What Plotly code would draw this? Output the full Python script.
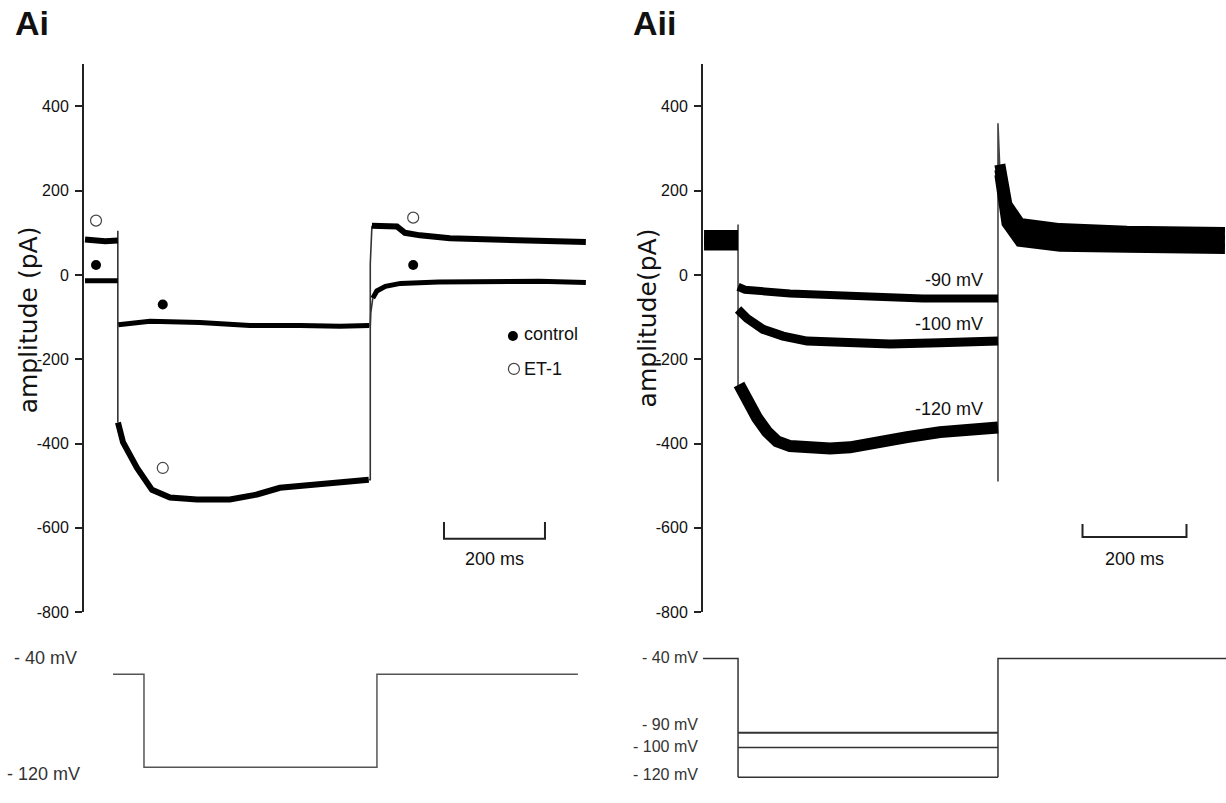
import plotly.graph_objects as go

W, H = 1226, 803

# ---------------- Ai : current traces (time ms, current pA) ----------------
ai_et1_pre_t = [0, 20, 40, 65]
ai_et1_pre_i = [84, 82, 80, 82]
ai_et1_step_t = [65.3, 75.2, 103, 132.7, 168.3, 221.8, 287, 340.6, 386, 451.5, 518.8, 562]
ai_et1_step_i = [-350, -397, -458, -510, -528, -533, -533, -521, -505, -498, -490, -486]
ai_et1_post_t = [568.3, 617.8, 633.7, 663.4, 722.8, 821.8, 920.8, 992]
ai_et1_post_i = [117, 115, 100, 94, 87, 83, 82, 78]

ai_ctl_pre_t = [0, 30, 65]
ai_ctl_pre_i = [-14, -13, -14]
ai_ctl_step_t = [66, 128.7, 227.7, 326.7, 425.7, 505, 563]
ai_ctl_step_i = [-118, -110, -113, -120, -120, -122, -120]
ai_ctl_post_t = [570, 578, 595, 625, 700, 800, 900, 992]
ai_ctl_post_i = [-55, -38, -27, -20, -17, -15, -15, -18]

# thin step transitions
ai_et1_on_t = [65, 65]
ai_et1_on_i = [105, -350]
ai_et1_off_t = [562, 565, 565, 566.5, 568.3]
ai_et1_off_i = [-486, -486, 26, 100, 117]
ai_ctl_off_t = [563, 565, 566, 570]
ai_ctl_off_i = [-120, -120, -90, -55]

# symbols on traces
ai_ctl_mark_t = [21.8, 154, 650]
ai_ctl_mark_i = [23.5, -70, 23.5]
ai_et1_mark_t = [21.8, 154, 650]
ai_et1_mark_i = [129, -458, 136]

# legend position (data coords)
ai_leg_t = [847.5, 849.5]
ai_leg_i = [-145, -223]

# voltage protocol Ai
ai_v_t = [55.4, 116.8, 116.8, 578.2, 578.2, 976.2]
ai_v_mv = [-40, -40, -120, -120, -40, -40]

# ---------------- Aii : current traces ----------------
aii_pre_t = [0, 65.4]
aii_pre_a = [95, 95]
aii_pre_b = [82, 82]
aii_pre_c = [70, 70]

aii_90_t = [65.4, 78.8, 165.4, 294, 421, 565.4]
aii_90_i = [-28, -35, -44, -51, -56, -56]
aii_100_t = [65.4, 82.7, 113.5, 151.9, 198, 294, 357.7, 453.8, 565.4]
aii_100_i = [-82, -103, -129, -145, -157, -164, -164, -161, -157]
aii_120_t = [67.3, 75, 88.5, 101.9, 121.2, 140.4, 165.4, 198, 242.3, 280.8, 325, 390.4, 453.8, 517.3, 565.4]
aii_120_i = [-260, -278, -316, -339, -372, -395, -406, -409, -412, -409, -397, -385, -373, -366, -362]

aii_tail_t = [569, 573, 582.7, 607.7, 646, 684.6, 813.5, 940.4, 1002]
aii_tail_a = [262, 230, 167, 122, 115, 110, 104, 101, 101]
aii_tail_b = [250, 211, 145, 101, 94, 89, 85, 82, 82]
aii_tail_c = [238, 192, 123, 80, 73, 68, 66, 63, 63]

aii_on_t = [65.4, 65.4]
aii_on_i = [120, -280]
aii_off_t = [565.4, 565.4, 567.3, 569]
aii_off_i = [-490, 360, 300, 250]

# voltage protocol Aii
aii_hold_t = [-2, 65.4, 65.4]
aii_hold_mv = [-40, -40, -120]
aii_ret_t = [565.4, 565.4, 1004]
aii_ret_mv = [-120, -40, -40]
aii_steps_mv = [-90, -100, -120]
aii_step_t = [65.4, 565.4]

# scale bars (ms, pA)
ai_bar_t = [711, 711, 911, 911]
ai_bar_i = [-586, -626, -626, -586]
aii_bar_t = [728, 728, 928, 928]
aii_bar_i = [-591, -622, -622, -591]

yticks = [400, 200, 0, -200, -400, -600, -800]

ARIAL = "Liberation Sans, Arial, sans-serif"

fig = go.Figure()


def line(x, y, xa, ya, width, color="black"):
    fig.add_trace(go.Scatter(x=x, y=y, xaxis=xa, yaxis=ya, mode="lines",
                             line=dict(color=color, width=width),
                             hoverinfo="skip", showlegend=False))


# Ai traces
line(ai_et1_on_t, ai_et1_on_i, "x", "y", 1.6, "#333")
line(ai_et1_off_t, ai_et1_off_i, "x", "y", 1.6, "#333")
line(ai_ctl_off_t, ai_ctl_off_i, "x", "y", 1.6, "#333")
line(ai_et1_pre_t, ai_et1_pre_i, "x", "y", 6)
line(ai_et1_step_t, ai_et1_step_i, "x", "y", 6)
line(ai_et1_post_t, ai_et1_post_i, "x", "y", 6)
line(ai_ctl_pre_t, ai_ctl_pre_i, "x", "y", 5)
line(ai_ctl_step_t, ai_ctl_step_i, "x", "y", 5)
line(ai_ctl_post_t, ai_ctl_post_i, "x", "y", 5)
line(ai_bar_t, ai_bar_i, "x", "y", 2, "#222")

fig.add_trace(go.Scatter(x=ai_ctl_mark_t + [ai_leg_t[0]], y=ai_ctl_mark_i + [ai_leg_i[0]],
                         xaxis="x", yaxis="y", mode="markers",
                         marker=dict(symbol="circle", size=10, color="black"),
                         hoverinfo="skip", showlegend=False))
fig.add_trace(go.Scatter(x=ai_et1_mark_t + [ai_leg_t[1]], y=ai_et1_mark_i + [ai_leg_i[1]],
                         xaxis="x", yaxis="y", mode="markers",
                         marker=dict(symbol="circle-open", size=11, color="#444", line=dict(width=1.2)),
                         hoverinfo="skip", showlegend=False))

# Ai voltage
line(ai_v_t, ai_v_mv, "x2", "y2", 1.5, "#555")

# Aii traces
line(aii_on_t, aii_on_i, "x3", "y3", 1.6, "#444")
line(aii_off_t, aii_off_i, "x3", "y3", 1.6, "#444")
for pre in (aii_pre_a, aii_pre_b, aii_pre_c):
    line(aii_pre_t, pre, "x3", "y3", 10)
line(aii_90_t, aii_90_i, "x3", "y3", 8)
line(aii_100_t, aii_100_i, "x3", "y3", 9)
line(aii_120_t, aii_120_i, "x3", "y3", 12)
for tail in (aii_tail_a, aii_tail_b, aii_tail_c):
    line(aii_tail_t, tail, "x3", "y3", 11)
line(aii_bar_t, aii_bar_i, "x3", "y3", 2, "#222")

# Aii voltage
line(aii_hold_t, aii_hold_mv, "x4", "y4", 1.5, "#333")
line(aii_ret_t, aii_ret_mv, "x4", "y4", 1.5, "#333")
for mv, w in zip(aii_steps_mv, [2, 1.4, 1.4]):
    line(aii_step_t, [mv, mv], "x4", "y4", w, "#333")


def px_x(p):
    return p / W


def px_y(p):
    return 1 - p / H


yax = dict(range=[-800, 500], tickvals=yticks, ticktext=[str(v) for v in yticks],
           showline=True, linecolor="#222", linewidth=2, ticks="outside",
           ticklen=7, tickwidth=2, tickcolor="#222", showgrid=False, zeroline=False,
           tickfont=dict(family=ARIAL, size=16, color="#111"), ticklabelstandoff=3,
           domain=[px_y(619), px_y(65)])

fig.update_layout(
    width=W, height=H, margin=dict(l=0, r=0, t=0, b=0),
    paper_bgcolor="white", plot_bgcolor="white", showlegend=False,
    xaxis=dict(domain=[px_x(84), px_x(600)], range=[-2, 1020], visible=False),
    yaxis=dict(anchor="x", **yax),
    xaxis2=dict(domain=[px_x(84), px_x(600)], range=[-2, 1020], visible=False, anchor="y2"),
    yaxis2=dict(domain=[px_y(786), px_y(672)], range=[-128.51, -31.49], visible=False, anchor="x2"),
    xaxis3=dict(domain=[px_x(703), 1.0], range=[-2, 1004], visible=False, anchor="y3"),
    yaxis3=dict(anchor="x3", **yax),
    xaxis4=dict(domain=[px_x(703), 1.0], range=[-2, 1004], visible=False, anchor="y4"),
    yaxis4=dict(domain=[px_y(796), px_y(656)], range=[-126.67, -33.33], visible=False, anchor="x4"),
)

ann = []


def paper_text(text, x, y, size, family=ARIAL, xanchor="left", angle=0, bold=False, color="#111"):
    ann.append(dict(text=("<b>%s</b>" % text) if bold else text, x=px_x(x), y=px_y(y),
                    xref="paper", yref="paper", xanchor=xanchor, yanchor="middle",
                    showarrow=False, textangle=angle,
                    font=dict(family=family, size=size, color=color)))


def data_text(text, x, y, xr, yr, size, xanchor="left", family=ARIAL):
    ann.append(dict(text=text, x=x, y=y, xref=xr, yref=yr, xanchor=xanchor, yanchor="middle",
                    showarrow=False, font=dict(family=family, size=size, color="#111")))


paper_text("Ai", 13, 23, 34, bold=True)
paper_text("Aii", 631, 23, 34, bold=True)
paper_text("amplitude (pA)", 28, 324, 25, family="DejaVu Sans, Liberation Sans", xanchor="center", angle=-90)
paper_text("amplitude(pA)", 647, 322, 25, family="DejaVu Sans, Liberation Sans", xanchor="center", angle=-90)

data_text("control", ai_leg_t[0] + 18, ai_leg_i[0] + 5, "x", "y", 18)
data_text("ET-1", ai_leg_t[1] + 16, ai_leg_i[1], "x", "y", 18)
data_text("200 ms", 811, -673, "x", "y", 18, xanchor="center")
data_text("200 ms", 828, -673, "x3", "y3", 18, xanchor="center")
data_text("-90 mV", 540, -12, "x3", "y3", 18, xanchor="right")
data_text("-100 mV", 540, -117, "x3", "y3", 18, xanchor="right")
data_text("-120 mV", 540, -317, "x3", "y3", 18, xanchor="right")

paper_text("- 40 mV", 12, 665, 18, color="#333")
paper_text("- 120 mV", 5, 783, 18, color="#333")
paper_text("- 40 mV", 700, 665, 16, xanchor="right", color="#333")
paper_text("- 90 mV", 700, 733, 16, xanchor="right", color="#333")
paper_text("- 100 mV", 700, 755, 16, xanchor="right", color="#333")
paper_text("- 120 mV", 700, 783, 16, xanchor="right", color="#333")

fig.update_layout(annotations=ann)
fig.write_html("out.html")
